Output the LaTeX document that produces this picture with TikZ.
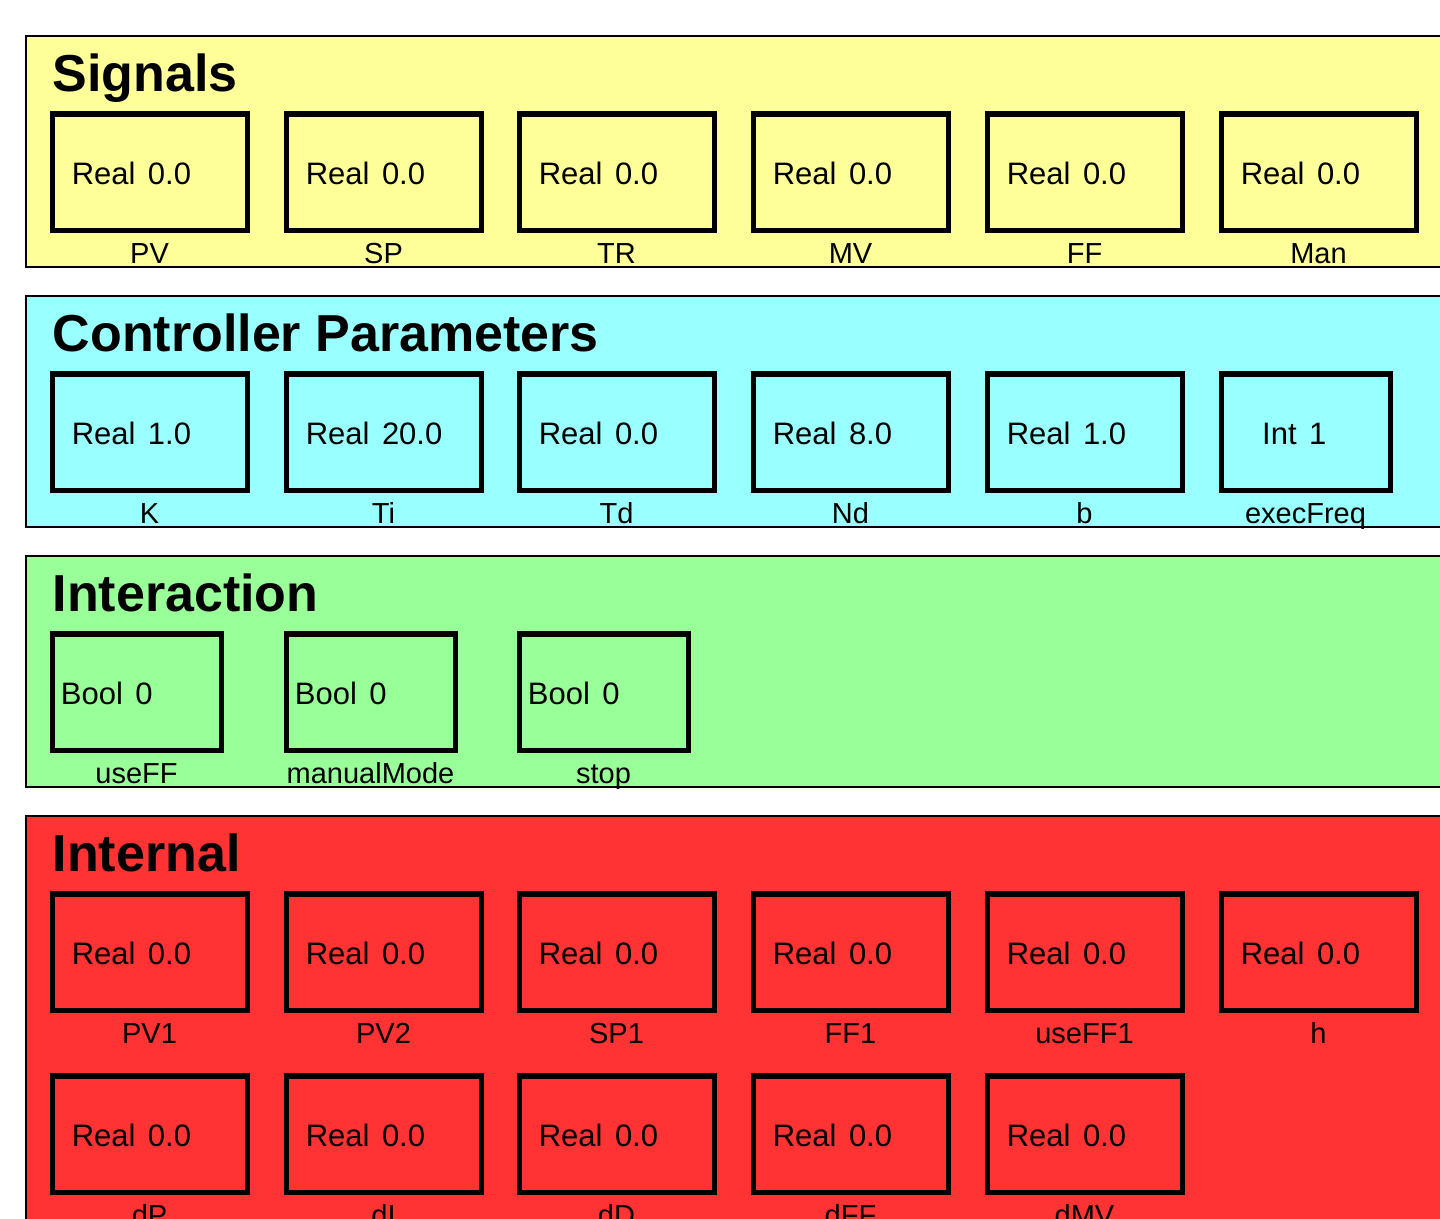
\documentclass[tikz,border=0pt]{standalone}
\usepackage{fontspec}
\setmainfont{Liberation Sans}
\newfontfamily\valfont[WordSpace=1.45]{Liberation Sans}
\definecolor{sigcol}{HTML}{FFFF99}
\definecolor{parcol}{HTML}{99FFFF}
\definecolor{intcol}{HTML}{99FF99}
\definecolor{inrcol}{HTML}{FF3333}
\tikzset{
  panel/.style={draw=black, line width=2pt, rectangle, inner sep=0pt, outer sep=0pt, minimum width=1480pt, minimum height=231pt, anchor=north west},
  paneltitle/.style={font=\fontsize{52}{60}\selectfont\bfseries, anchor=base west, inner sep=0pt},
  cellbox/.style={draw=black, line width=5.5pt, rectangle, inner sep=0pt, outer sep=0pt, minimum height=116.7pt, anchor=north west},
  valtext/.style={font=\valfont\fontsize{31}{36}\selectfont, anchor=base west, inner sep=0pt},
  labtext/.style={font=\fontsize{29}{34}\selectfont, anchor=base, inner sep=0pt}
}
% #1 name, #2 left, #3 top, #4 outer width, #5 text offset, #6 value, #7 label
\newcommand{\varcell}[7]{%
  \node[cellbox, minimum width={#4-2}] (#1) at ({#2+1.3},{#3+0.8}) {};
  \node[valtext] (#1v) at ({#2+#5},{#3+71}) {#6};
  \node[labtext] (#1l) at ({#2+#4/2},{#3+150}) {#7};
}
\begin{document}
\begin{tikzpicture}[x=1pt,y=-1pt]
\useasboundingbox (0,0) rectangle (1440,1218);
\fill[white] (0,0) rectangle (1440,1218);
\clip (0,0) rectangle (1440,1218);

% Signals
\node[panel, fill=sigcol] (sigpanel) at (26,35.7) {};
\node[paneltitle] (sigtitle) at (52.5,91) {Signals};
\varcell{pv}{51}{113}{197}{20.6}{Real 0.0}{PV}
\varcell{sp}{285}{113}{197}{20.6}{Real 0.0}{SP}
\varcell{tr}{518}{113}{197}{20.6}{Real 0.0}{TR}
\varcell{mv}{752}{113}{197}{20.6}{Real 0.0}{MV}
\varcell{ff}{986}{113}{197}{20.6}{Real 0.0}{FF}
\varcell{man}{1220}{113}{197}{20.6}{Real 0.0}{Man}

% Controller Parameters
\node[panel, fill=parcol] (parpanel) at (26,295.7) {};
\node[paneltitle] (partitle) at (52.5,351) {Controller Parameters};
\varcell{k}{51}{373}{197}{20.6}{Real 1.0}{K}
\varcell{ti}{285}{373}{197}{20.6}{Real 20.0}{Ti}
\varcell{td}{518}{373}{197}{20.6}{Real 0.0}{Td}
\varcell{nd}{752}{373}{197}{20.6}{Real 8.0}{Nd}
\varcell{b}{986}{373}{197}{20.6}{Real 1.0}{b}
\varcell{ef}{1220}{373}{171}{42}{Int 1}{execFreq}

% Interaction
\node[panel, fill=intcol] (intpanel) at (26,555.7) {};
\node[paneltitle] (inttitle) at (52.5,611) {Interaction};
\varcell{useff}{51}{633}{171}{9.7}{Bool 0}{useFF}
\varcell{mm}{285}{633}{171}{9.7}{Bool 0}{manualMode}
\varcell{stop}{518}{633}{171}{9.7}{Bool 0}{stop}

% Internal
\node[panel, fill=inrcol, minimum height=500pt] (inrpanel) at (26,815.7) {};
\node[paneltitle] (inrtitle) at (52.5,871) {Internal};
\varcell{pva}{51}{893}{197}{20.6}{Real 0.0}{PV1}
\varcell{pvb}{285}{893}{197}{20.6}{Real 0.0}{PV2}
\varcell{spa}{518}{893}{197}{20.6}{Real 0.0}{SP1}
\varcell{ffa}{752}{893}{197}{20.6}{Real 0.0}{FF1}
\varcell{useffa}{986}{893}{197}{20.6}{Real 0.0}{useFF1}
\varcell{h}{1220}{893}{197}{20.6}{Real 0.0}{h}
\varcell{dp}{51}{1075}{197}{20.6}{Real 0.0}{dP}
\varcell{di}{285}{1075}{197}{20.6}{Real 0.0}{dI}
\varcell{dd}{518}{1075}{197}{20.6}{Real 0.0}{dD}
\varcell{dff}{752}{1075}{197}{20.6}{Real 0.0}{dFF}
\varcell{dmv}{986}{1075}{197}{20.6}{Real 0.0}{dMV}
\end{tikzpicture}
\end{document}
